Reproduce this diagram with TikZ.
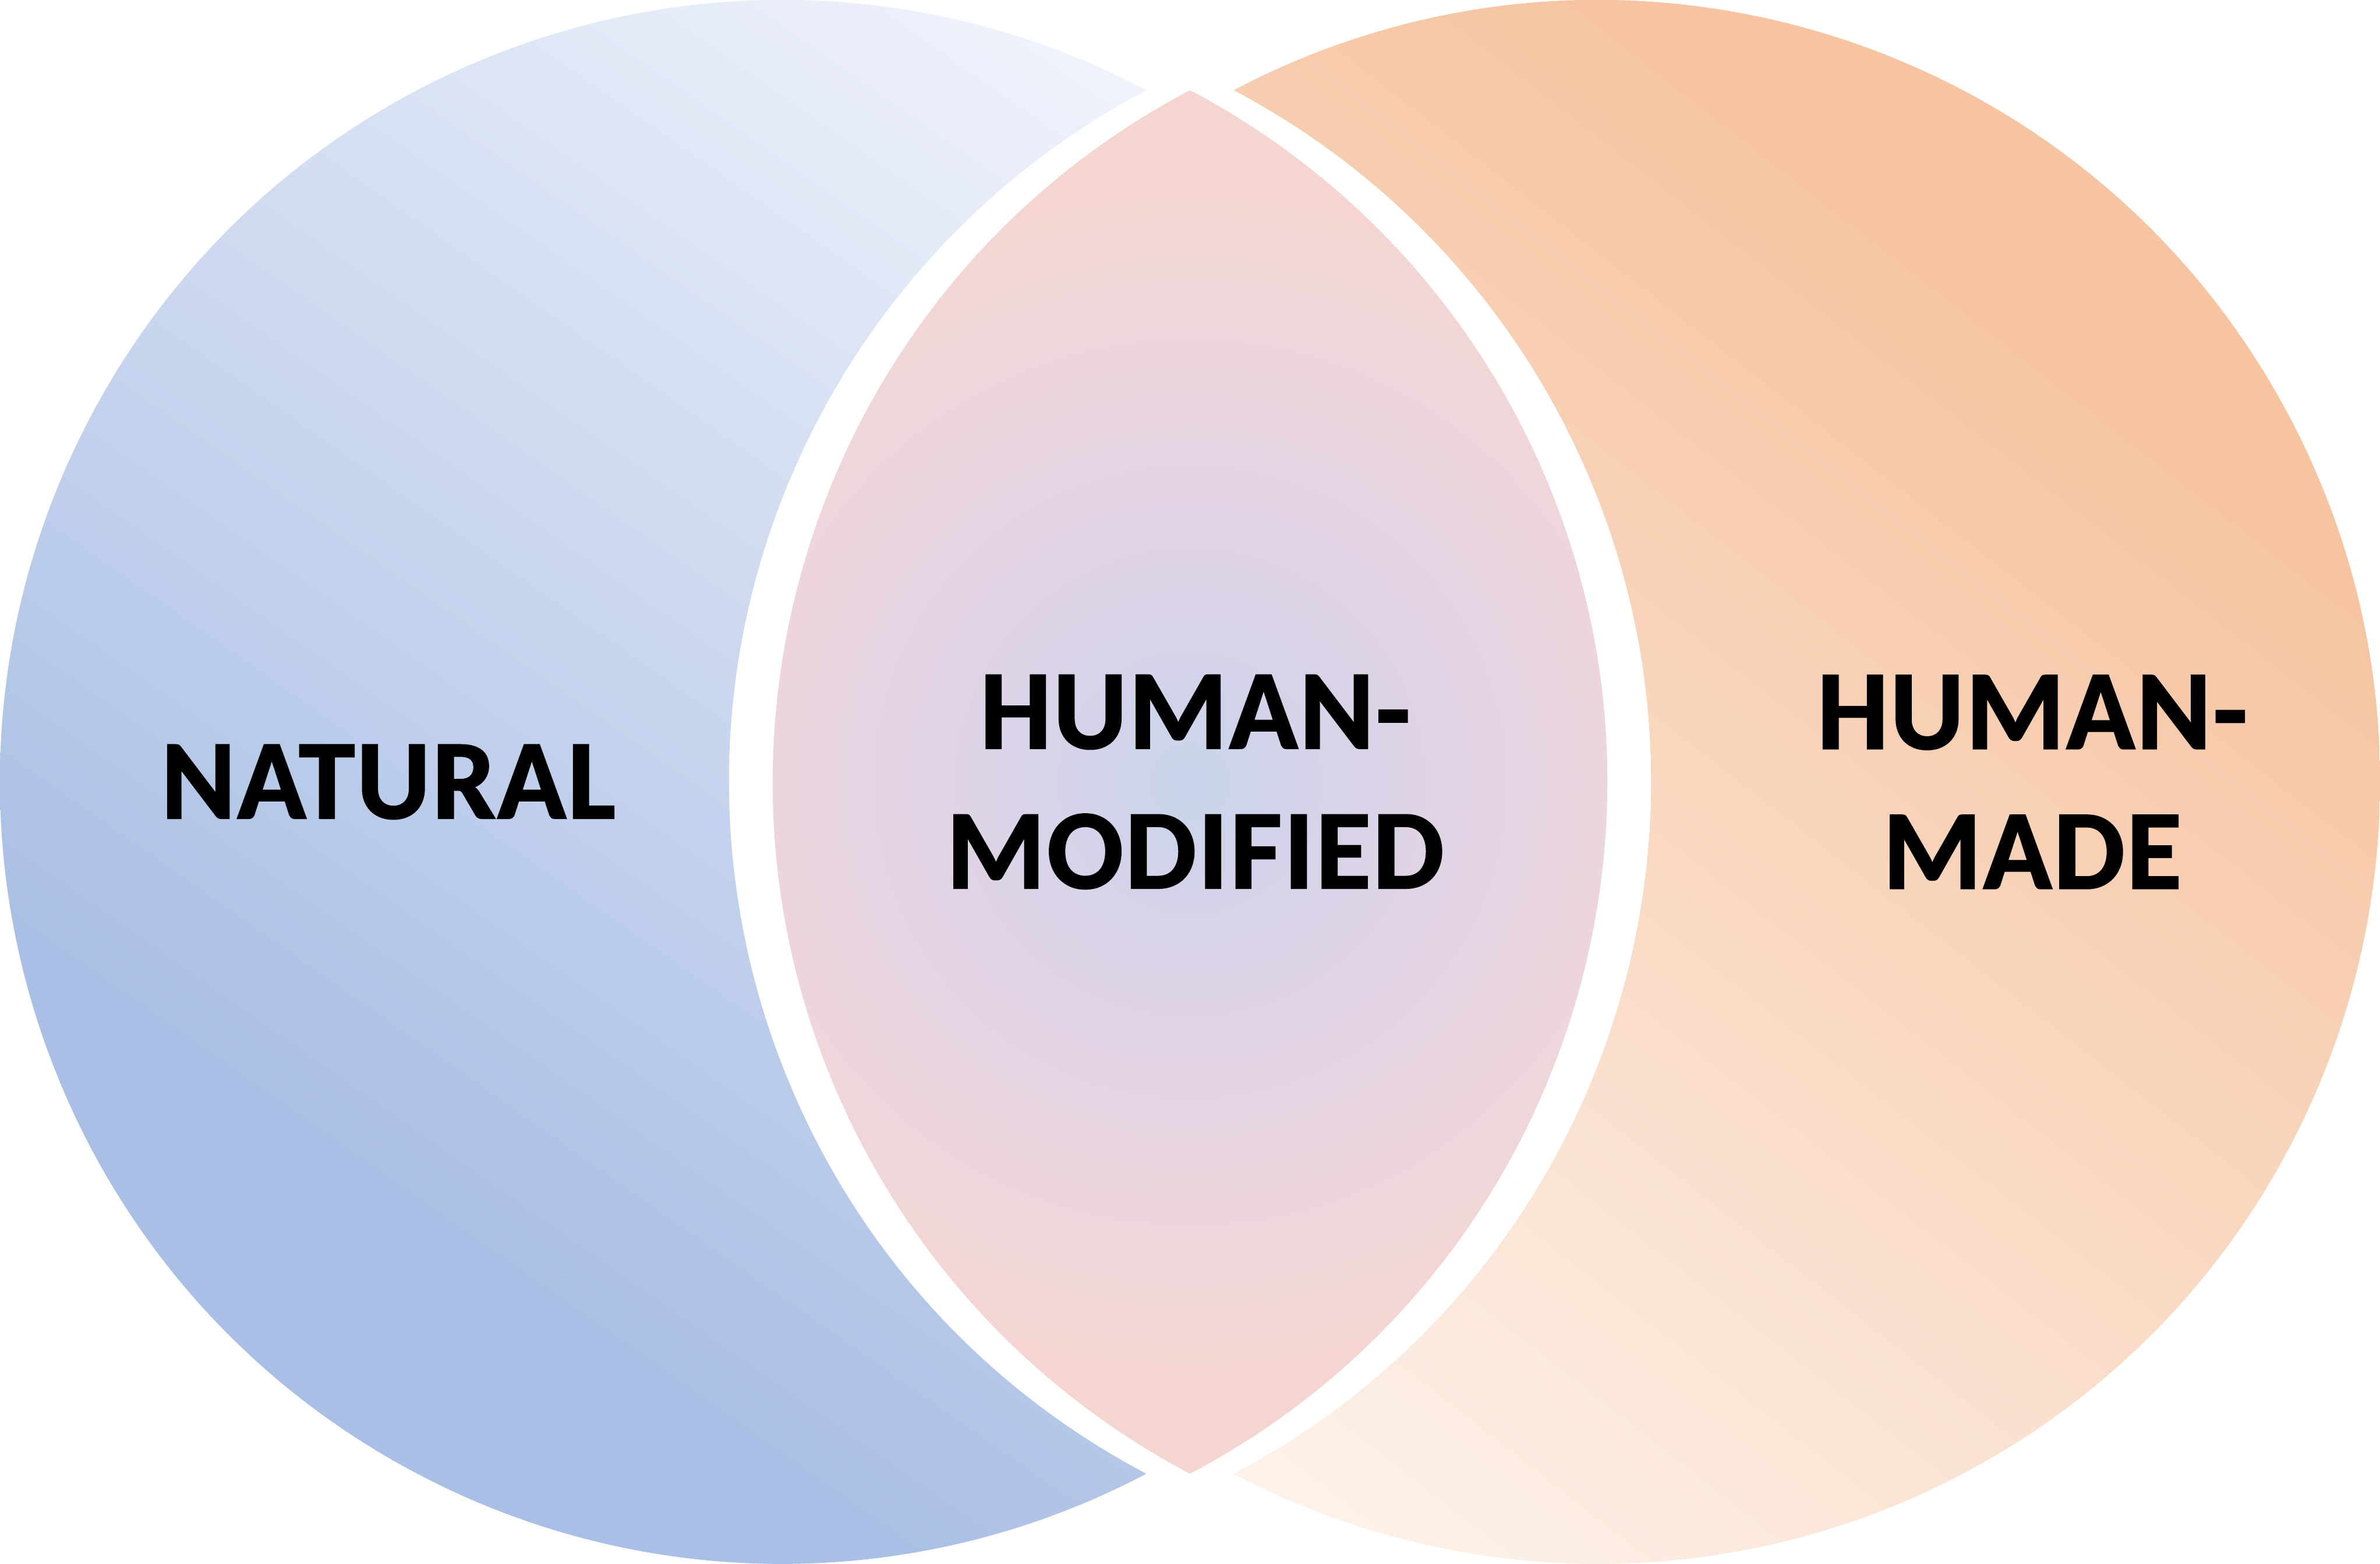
\documentclass[tikz,border=0pt]{standalone}
\usepackage{fontspec}
\newfontfamily\lblfont{Carlito}[BoldFeatures={FakeBold=1.4,LetterSpace=1.6}]
\definecolor{blueDark}{HTML}{AABFE5}
\definecolor{blueLight}{HTML}{F0F3FB}
\definecolor{lensA}{HTML}{C8D4EC}
\definecolor{lensB}{HTML}{D8D3E8}
\definecolor{lensC}{HTML}{E6D4E2}
\definecolor{lensD}{HTML}{F0D6DA}
\definecolor{lensE}{HTML}{F5D5D0}
\definecolor{orDark}{HTML}{F6C4A1}
\definecolor{orLight}{HTML}{FDF3EC}
\pgfdeclareverticalshading{leftgrad}{100bp}{color(0bp)=(blueDark); color(32bp)=(blueDark); color(75bp)=(blueLight); color(100bp)=(blueLight)}
\pgfdeclareverticalshading{rightgrad}{100bp}{color(0bp)=(orLight); color(24.5bp)=(orLight); color(69.5bp)=(orDark); color(100bp)=(orDark)}
\pgfdeclareradialshading{lensrad}{\pgfpoint{0bp}{0bp}}{color(0bp)=(lensA); color(5bp)=(lensB); color(11.5bp)=(lensC); color(16.5bp)=(lensD); color(21.5bp)=(lensE); color(50bp)=(lensE)}
\tikzset{
  label/.style={inner sep=0pt, align=center, font=\lblfont\fontsize{38.8pt}{48pt}\selectfont\bfseries, text=black}
}
\begin{document}
\begin{tikzpicture}
\useasboundingbox (0,0) rectangle (817.4pt,537pt);
\pgfmathsetmacro\R{268.5}
\pgfmathsetmacro\th{acos(125.2/268.5)}
\pgfmathsetmacro\h{268.5*sin(\th)}
% left crescent
\begin{scope}
  \clip (393.7pt,268.5pt+\h pt) arc[start angle=\th, end angle=360-\th, radius=\R pt]
        arc[start angle=180+\th, end angle=180-\th, radius=\R pt] -- cycle;
  \shade[shading=leftgrad, shading angle=-35] (0pt,0pt) rectangle (537pt,537pt);
\end{scope}
% lens
\begin{scope}
  \clip (408.7pt,268.5pt+\h pt) arc[start angle=180-\th, end angle=180+\th, radius=\R pt]
        arc[start angle=-\th, end angle=\th, radius=\R pt] -- cycle;
  \shade[shading=lensrad] (408.7pt,268.5pt) circle (250pt);
\end{scope}
% right crescent
\begin{scope}
  \clip (423.7pt,268.5pt+\h pt) arc[start angle=180-\th, end angle=-180+\th, radius=\R pt]
        arc[start angle=-\th, end angle=\th, radius=\R pt] -- cycle;
  \shade[shading=rightgrad, shading angle=-38] (280.4pt,0pt) rectangle (817.4pt,537pt);
\end{scope}
\node[label] (nat) at (133.4pt,268.5pt) {NATURAL};
\node[label] (mod) at (410.5pt,268.5pt) {HUMAN-\\MODIFIED};
\node[label] (made) at (698pt,268.5pt) {HUMAN-\\MADE};
\end{tikzpicture}
\end{document}
